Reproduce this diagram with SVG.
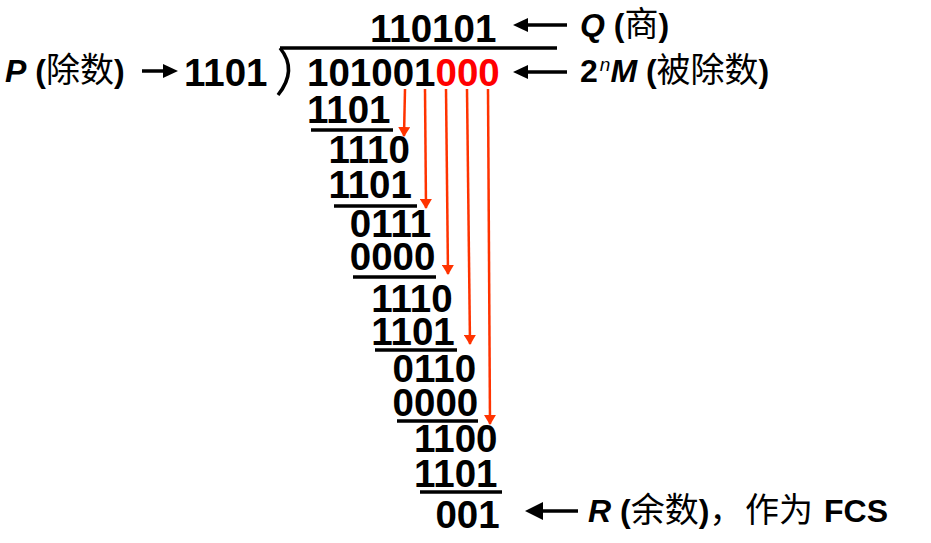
<svg xmlns="http://www.w3.org/2000/svg" width="931" height="543" viewBox="0 0 931 543">
<defs>
<style>
.d{font-family:"Liberation Sans",Arial,sans-serif;font-weight:bold;font-size:38.5px;fill:#000}
.red{fill:#FF0000}
.lb{font-family:"Liberation Sans","Noto Sans CJK SC",sans-serif;font-size:32px;fill:#000}
.b{font-weight:bold}
.bi{font-weight:bold;font-style:italic}
.it{font-style:italic}
.cjk{font-family:"Noto Sans CJK SC","Liberation Sans",sans-serif;font-weight:normal;font-size:34px}
.ul{stroke:#000;stroke-width:3.5;fill:none}
.ra{stroke:#FF3300;stroke-width:2.5;fill:none;marker-end:url(#rh)}
.ka{stroke:#000;stroke-width:3.5;fill:none}
</style>
<marker id="rh" markerWidth="10" markerHeight="12" refX="9" refY="6" orient="auto" markerUnits="userSpaceOnUse">
<path d="M0,0 L10,6 L0,12 Z" fill="#FF3300"/>
</marker>
</defs>
<rect width="931" height="543" fill="#fff"/>

<g id="quotient"><text class="d" x="370" y="42">110101</text></g>
<g id="divisor"><text class="d" x="184" y="86">1101</text></g>
<g id="bracket">
<path d="M280,48 L557,48" class="ul" stroke-width="2.5"/>
<path d="M280,48 Q298,70 278,95" class="ul" stroke-width="2.5"/>
</g>
<g id="dividend"><text class="d" x="307" y="86">101001<tspan class="red">000</tspan></text></g>

<g id="steps">
<text class="d" x="307" y="123">1101</text>
<line class="ul" x1="311" y1="130" x2="393" y2="130"/>
<text class="d" x="328.4" y="163">1110</text>
<text class="d" x="328.4" y="198">1101</text>
<line class="ul" x1="334" y1="206" x2="417" y2="206"/>
<text class="d" x="349.8" y="237">0111</text>
<text class="d" x="349.8" y="270">0000</text>
<line class="ul" x1="353" y1="277" x2="436" y2="277"/>
<text class="d" x="371.2" y="312">1110</text>
<text class="d" x="371.2" y="345">1101</text>
<line class="ul" x1="375" y1="350" x2="457" y2="350"/>
<text class="d" x="392.6" y="382">0110</text>
<text class="d" x="392.6" y="416">0000</text>
<line class="ul" x1="397" y1="421" x2="478" y2="421"/>
<text class="d" x="414" y="452">1100</text>
<text class="d" x="414" y="487">1101</text>
<line class="ul" x1="420" y1="492" x2="502" y2="492"/>
<text class="d" x="435.4" y="528">001</text>
</g>

<g id="label-P"><text class="lb" x="5" y="82"><tspan class="bi">P</tspan><tspan class="b"> (</tspan><tspan class="cjk">除数</tspan><tspan class="b">)</tspan></text></g>
<g id="label-Q"><text class="lb" x="580" y="36"><tspan class="bi">Q</tspan><tspan class="b"> (</tspan><tspan class="cjk">商</tspan><tspan class="b">)</tspan></text></g>
<g id="label-M"><text class="lb" x="580" y="82"><tspan class="b">2</tspan><tspan class="it" font-size="19" dx="2" dy="-11">n</tspan><tspan class="bi" dy="11">M</tspan><tspan class="b"> (</tspan><tspan class="cjk">被除数</tspan><tspan class="b">)</tspan></text></g>
<g id="label-R"><text class="lb" x="588" y="522"><tspan class="bi">R</tspan><tspan class="b"> (</tspan><tspan class="cjk">余数</tspan><tspan class="b">)</tspan><tspan class="cjk">，</tspan><tspan class="cjk" x="745">作为</tspan><tspan class="b" x="824">FCS</tspan></text></g>

<g id="connectors">
<line class="ka" x1="142" y1="71" x2="165" y2="71"/>
<path d="M163,64 L178,71 L163,78 Z"/>
<line class="ka" x1="525" y1="25" x2="567" y2="25"/>
<path d="M528,18 L513,25 L528,32 Z"/>
<line class="ka" x1="525" y1="72" x2="567" y2="72"/>
<path d="M528,65 L513,72 L528,79 Z"/>
<line class="ka" stroke-width="5" x1="540" y1="511" x2="578" y2="511"/>
<path d="M543,502 L525,511 L543,520 Z"/>
<path class="ra" d="M405,89 L404,136"/>
<path class="ra" d="M425,89 L426,208"/>
<path class="ra" d="M446,89 L448,274"/>
<path class="ra" d="M467,89 L470,344"/>
<path class="ra" d="M488,89 L490,424"/>
</g>
</svg>
